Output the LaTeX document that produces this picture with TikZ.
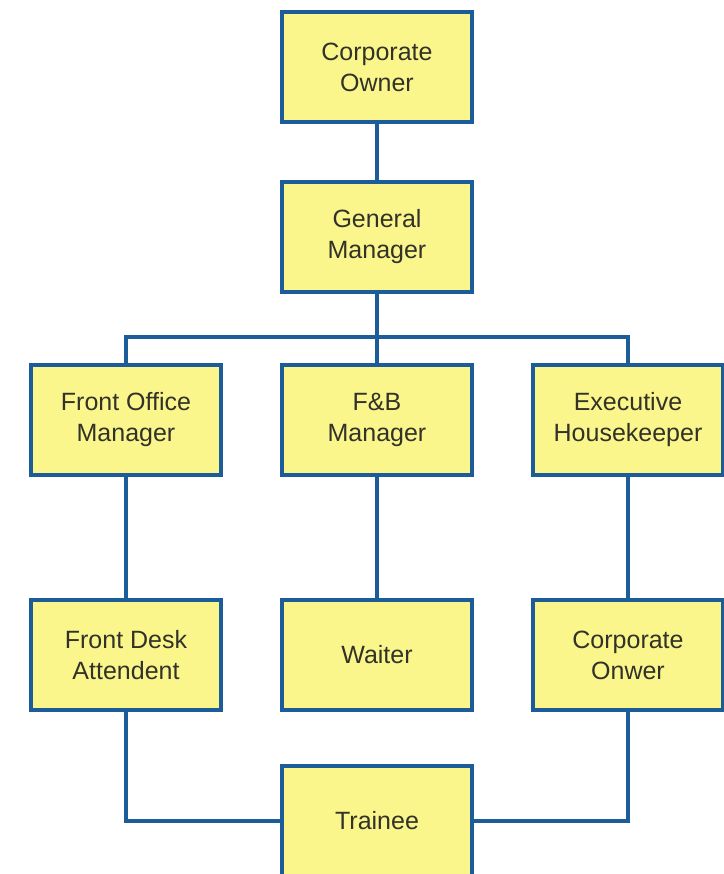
\documentclass[tikz,border=0pt]{standalone}
\usepackage{fontspec}
\setmainfont{Liberation Sans}
\definecolor{boxfill}{RGB}{250,246,140}
\definecolor{boxline}{RGB}{28,92,153}
\definecolor{boxtext}{RGB}{50,50,40}

\begin{document}
\begin{tikzpicture}[x=1pt,y=1pt,
    post/.style={draw=boxline, line width=4.5pt, fill=boxfill, text=boxtext,
        minimum width=190pt, minimum height=110pt, align=center,
        font=\fontsize{25}{31}\selectfont},
    link/.style={draw=boxline, line width=4.5pt}]
            \useasboundingbox (0,0) rectangle (723,-874);

            \node[post] (corpowner) at (377,-67) {Corporate\\Owner};
            \node[post] (genmgr) at (377,-237) {General\\Manager};
            \node[post] (fomgr) at (126,-420) {Front Office\\Manager};
            \node[post] (fbmgr) at (377,-420) {F\&B\\Manager};
            \node[post] (exechk) at (628,-420) {Executive\\Housekeeper};
            \node[post] (frontdesk) at (126,-655) {Front Desk\\Attendent};
            \node[post] (waiter) at (377,-655) {Waiter};
            \node[post] (corponwer) at (628,-655) {Corporate\\Onwer};
            \node[post] (trainee) at (377,-821) {Trainee};

            \coordinate (bus) at (377,-337);

            \draw[link] (corpowner) -- (genmgr);
            \draw[link] (genmgr) -- (fbmgr);
            \draw[link] (bus) -| (fomgr.north);
            \draw[link] (bus) -| (exechk.north);
            \draw[link] (fomgr) -- (frontdesk);
            \draw[link] (fbmgr) -- (waiter);
            \draw[link] (exechk) -- (corponwer);
            \draw[link] (frontdesk.south) |- (trainee.west);
            \draw[link] (corponwer.south) |- (trainee.east);
        \end{tikzpicture}
\end{document}
